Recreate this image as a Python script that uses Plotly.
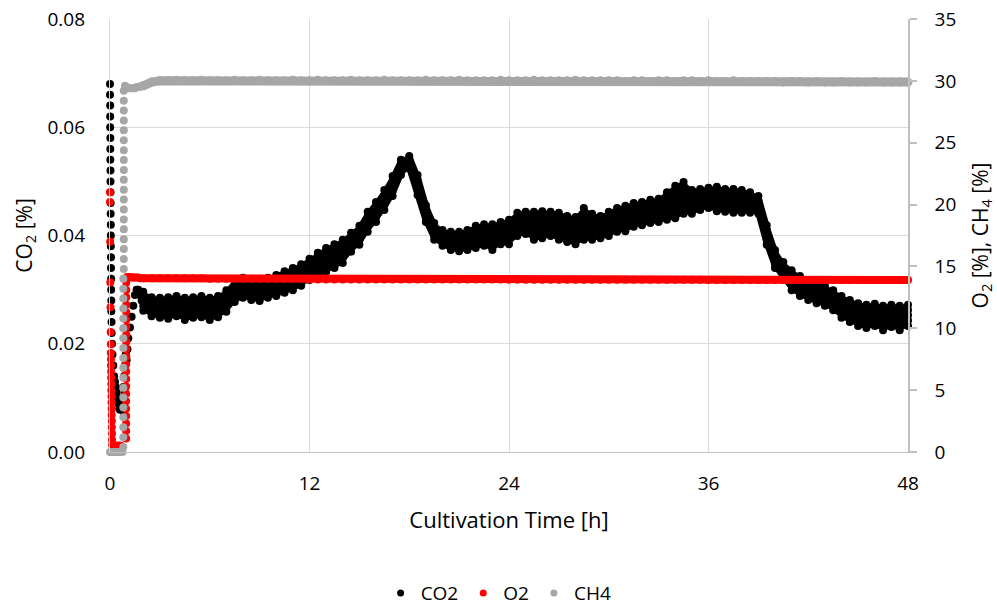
import plotly.graph_objects as go

# ---------------- data ----------------
# start-up phase, CO2 [%]
co2_start_t = [0.00, 0.00, 0.01, 0.01, 0.01, 0.02, 0.02, 0.02, 0.03, 0.03, 0.03, 0.04, 0.04,
               0.05, 0.05, 0.05, 0.06, 0.06, 0.07, 0.07, 0.08, 0.08, 0.09, 0.10, 0.12, 0.15,
               0.20, 0.25, 0.30, 0.35, 0.40, 0.45, 0.50, 0.55, 0.60, 0.70, 0.75, 0.80, 0.80,
               0.85, 0.85, 0.90, 0.90, 0.95, 1.00, 1.05, 1.10, 1.20, 1.30, 1.40, 1.50, 1.60,
               1.70, 1.80, 1.90]
co2_start_v = [0.068, 0.066, 0.064, 0.062, 0.060, 0.058, 0.056, 0.054, 0.052, 0.050, 0.048,
               0.046, 0.044, 0.042, 0.040, 0.038, 0.036, 0.034, 0.032, 0.030, 0.028, 0.026,
               0.024, 0.022, 0.020, 0.018, 0.016, 0.014, 0.013, 0.012, 0.011, 0.010, 0.009,
               0.008, 0.0078, 0.008, 0.010, 0.012, 0.0075, 0.014, 0.009, 0.016, 0.011, 0.018,
               0.017, 0.019, 0.021, 0.023, 0.025, 0.027, 0.029, 0.030, 0.030, 0.029, 0.028]

# start-up phase, O2 [%]
o2_start_t = [0.00, 0.00, 0.01, 0.02, 0.03, 0.04, 0.05, 0.05, 0.06, 0.06, 0.07, 0.07, 0.08,
              0.08, 0.09, 0.09, 0.10, 0.10, 0.11, 0.11, 0.12, 0.12, 0.13,
              0.15, 0.20, 0.25, 0.30, 0.35, 0.40, 0.45, 0.50, 0.55, 0.60, 0.65,
              0.97, 0.97, 0.97, 0.97, 0.97, 0.97, 0.97, 0.97, 0.97, 0.97, 0.97,
              0.98, 0.98, 0.98, 0.98, 0.98, 0.98, 0.98, 0.98, 0.98, 0.98, 0.98,
              1.00, 1.05, 1.10, 1.20, 1.30, 1.40, 1.50, 1.60, 1.70, 1.80, 1.90]
o2_start_v = [21.0, 20.2, 17.0, 13.7, 11.7, 9.7, 8.7, 8.0, 7.5, 7.0, 6.5, 6.0, 5.5,
              5.0, 4.5, 4.0, 3.5, 3.0, 2.5, 2.0, 1.5, 1.0, 0.6,
              0.5, 0.5, 0.5, 0.5, 0.5, 0.5, 0.5, 0.5, 0.5, 0.5, 0.5,
              1.1, 1.7, 2.3, 2.9, 3.5, 4.1, 4.7, 5.3, 5.9, 6.5, 7.1,
              7.7, 8.3, 8.9, 9.5, 10.1, 10.7, 11.3, 11.9, 12.5, 13.1, 13.7,
              14.1, 14.15, 14.15, 14.15, 14.1, 14.1, 14.1, 14.1, 14.1, 14.05, 14.05]

# start-up phase, CH4 [%]
ch4_start_t = [0.00, 0.05, 0.10, 0.15, 0.20, 0.25, 0.30, 0.35, 0.40, 0.45, 0.50, 0.55,
               0.60, 0.65, 0.70, 0.75,
               0.80, 0.80, 0.80, 0.80, 0.80, 0.80, 0.80, 0.80, 0.80, 0.80, 0.80, 0.80,
               0.80, 0.80, 0.80, 0.80, 0.80, 0.80,
               0.83, 0.83, 0.83, 0.83, 0.83, 0.83, 0.83, 0.83, 0.83, 0.83, 0.83, 0.83,
               0.83, 0.83, 0.83, 0.83, 0.83, 0.83, 0.83,
               0.90, 1.00, 1.10, 1.20, 1.30, 1.40, 1.50, 1.60, 1.70, 1.80, 1.90]
ch4_start_v = [0, 0, 0, 0, 0, 0, 0, 0, 0, 0, 0, 0, 0, 0, 0, 0,
               0.4, 1.2, 2.0, 2.8, 3.6, 4.4, 5.2, 6.0, 6.8, 7.6, 8.4, 9.2, 10.0, 10.8,
               11.6, 12.4, 13.2, 14.0,
               14.8, 15.6, 16.4, 17.2, 18.0, 18.8, 19.6, 20.4, 21.2, 22.0, 22.8, 23.6,
               24.4, 25.2, 26.0, 26.8, 27.6, 28.4, 29.2,
               29.6, 29.5, 29.4, 29.4, 29.4, 29.4, 29.4, 29.5, 29.5, 29.5, 29.6]

# main phase, sampled every 0.5 h
time_h = [2.0, 2.5, 3.0, 3.5, 4.0, 4.5, 5.0, 5.5, 6.0, 6.5, 7.0, 7.5, 8.0, 8.5, 9.0, 9.5,
          10.0, 10.5, 11.0, 11.5, 12.0, 12.5, 13.0, 13.5, 14.0, 14.5, 15.0, 15.5, 16.0,
          16.5, 17.0, 17.5, 18.0, 18.5, 19.0, 19.5, 20.0, 20.5, 21.0, 21.5, 22.0, 22.5,
          23.0, 23.5, 24.0, 24.5, 25.0, 25.5, 26.0, 26.5, 27.0, 27.5, 28.0, 28.5, 29.0,
          29.5, 30.0, 30.5, 31.0, 31.5, 32.0, 32.5, 33.0, 33.5, 34.0, 34.5, 35.0, 35.5,
          36.0, 36.5, 37.0, 37.5, 38.0, 38.5, 39.0, 39.5, 40.0, 40.5, 41.0, 41.5, 42.0,
          42.5, 43.0, 43.5, 44.0, 44.5, 45.0, 45.5, 46.0, 46.5, 47.0, 47.5, 48.0]

# upper / lower edge of the noisy CO2 band [%]
co2_upper = [0.0296, 0.0286, 0.0285, 0.0286, 0.0288, 0.0285, 0.0286, 0.0288, 0.0285, 0.0288,
             0.0299, 0.0318, 0.0322, 0.0318, 0.0316, 0.0322, 0.0327, 0.0334, 0.0340, 0.0347,
             0.0357, 0.0368, 0.0377, 0.0384, 0.0392, 0.0405, 0.0418, 0.0444, 0.0462, 0.0484,
             0.0510, 0.0540, 0.0547, 0.0512, 0.0456, 0.0423, 0.0410, 0.0407, 0.0407, 0.0410,
             0.0418, 0.0421, 0.0421, 0.0425, 0.0429, 0.0442, 0.0444, 0.0444, 0.0445, 0.0444,
             0.0442, 0.0436, 0.0434, 0.0451, 0.0440, 0.0436, 0.0444, 0.0451, 0.0455, 0.0460,
             0.0462, 0.0466, 0.0468, 0.0480, 0.0492, 0.0499, 0.0484, 0.0486, 0.0488, 0.0490,
             0.0486, 0.0486, 0.0484, 0.0480, 0.0473, 0.0419, 0.0373, 0.0351, 0.0336, 0.0325,
             0.0318, 0.0314, 0.0307, 0.0299, 0.0288, 0.0281, 0.0275, 0.0272, 0.0274, 0.0270,
             0.0272, 0.0270, 0.0272]
co2_lower = [0.0261, 0.0251, 0.0248, 0.0246, 0.0251, 0.0244, 0.0248, 0.0249, 0.0244, 0.0249,
             0.0259, 0.0277, 0.0285, 0.0281, 0.0279, 0.0285, 0.0288, 0.0294, 0.0299, 0.0307,
             0.0318, 0.0325, 0.0333, 0.0340, 0.0349, 0.0370, 0.0383, 0.0407, 0.0425, 0.0447,
             0.0473, 0.0512, 0.0525, 0.0475, 0.0425, 0.0392, 0.0381, 0.0373, 0.0371, 0.0373,
             0.0377, 0.0381, 0.0373, 0.0384, 0.0384, 0.0399, 0.0403, 0.0392, 0.0395, 0.0399,
             0.0392, 0.0388, 0.0384, 0.0392, 0.0392, 0.0395, 0.0399, 0.0407, 0.0408, 0.0416,
             0.0419, 0.0423, 0.0425, 0.0429, 0.0432, 0.0440, 0.0440, 0.0447, 0.0451, 0.0445,
             0.0444, 0.0442, 0.0442, 0.0442, 0.0440, 0.0383, 0.0340, 0.0318, 0.0299, 0.0288,
             0.0281, 0.0275, 0.0270, 0.0262, 0.0248, 0.0240, 0.0233, 0.0229, 0.0233, 0.0225,
             0.0231, 0.0225, 0.0233]

o2_main = [14.05, 14.05, 14.05, 14.05, 14.05, 14.05, 14.05, 14.05, 14.0, 14.0, 14.0, 14.0,
           14.0, 14.0, 14.0, 14.0, 14.0, 14.0, 14.0, 14.0, 13.95, 13.95, 13.95, 13.95,
           13.95, 13.95, 13.95, 13.95, 13.95, 13.95, 13.95, 13.95, 13.95, 13.95, 13.95, 13.95,
           13.95, 13.95, 13.95, 13.95, 13.95, 13.95, 13.95, 13.95, 13.92, 13.92, 13.92, 13.92,
           13.92, 13.92, 13.92, 13.92, 13.92, 13.92, 13.92, 13.92, 13.92, 13.92, 13.92, 13.92,
           13.92, 13.92, 13.92, 13.92, 13.92, 13.92, 13.92, 13.92, 13.9, 13.9, 13.9, 13.9,
           13.9, 13.9, 13.9, 13.9, 13.9, 13.9, 13.9, 13.9, 13.9, 13.9, 13.9, 13.9, 13.9, 13.9,
           13.9, 13.9, 13.9, 13.9, 13.9, 13.9, 13.9]

ch4_main = [29.6, 29.9, 30.0, 30.0, 30.05, 30.0, 30.0, 30.05, 30.0, 30.0, 30.0, 30.05,
            30.0, 30.0, 30.05, 30.0, 30.0, 30.0, 30.05, 30.0, 30.0, 30.05, 30.0, 30.0,
            30.0, 30.05, 30.0, 30.0, 30.0, 30.05, 30.0, 30.0, 30.0, 30.0, 30.05, 30.0,
            30.0, 30.0, 30.05, 30.0, 30.0, 30.0, 30.0, 30.05, 30.0, 30.0, 30.0, 30.05,
            30.0, 30.0, 30.0, 30.0, 30.05, 30.0, 30.0, 30.0, 30.0, 30.0, 29.95, 30.0,
            30.0, 29.95, 30.0, 30.0, 29.95, 30.0, 30.0, 29.95, 30.0, 29.95, 29.95, 30.0,
            29.95, 29.95, 29.95, 29.95, 29.95, 29.9, 29.95, 29.95, 29.9, 29.95, 29.9, 29.9,
            29.95, 29.9, 29.9, 29.9, 29.95, 29.9, 29.9, 29.9, 29.9]

series_names = ["CO2", "O2", "CH4"]
x_ticks = [0, 12, 24, 36, 48]

# ---------------- styling ----------------
BLACK = "#000000"
RED = "#ff0000"
GREY = "#a6a6a6"
GRID = "#d9d9d9"
AXIS = "#bfbfbf"
FONT = "Open Sans"
MS = 8

fig = go.Figure()

# CO2 band (primary axis): solid polygon between the upper and lower edge
band_x = time_h + time_h[::-1]
band_y = co2_upper + co2_lower[::-1]
fig.add_trace(go.Scatter(x=band_x, y=band_y, mode="lines", fill="toself",
                         fillcolor=BLACK, line=dict(color=BLACK, width=2),
                         showlegend=False, hoverinfo="skip"))
# inner rows of dots so the band reads as a dense cloud of samples
for frac in (0.25, 0.5, 0.75):
    inner = [lo + frac * (hi - lo) for lo, hi in zip(co2_lower, co2_upper)]
    fig.add_trace(go.Scatter(x=time_h, y=inner, mode="lines+markers",
                             line=dict(color=BLACK, width=8),
                             marker=dict(color=BLACK, size=MS), showlegend=False,
                             cliponaxis=False, hoverinfo="skip"))
fig.add_trace(go.Scatter(x=time_h, y=co2_lower, mode="markers",
                         marker=dict(color=BLACK, size=MS), showlegend=False,
                         cliponaxis=False, hoverinfo="skip"))
fig.add_trace(go.Scatter(x=time_h, y=co2_upper, mode="markers",
                         marker=dict(color=BLACK, size=MS),
                         showlegend=False, cliponaxis=False, hoverinfo="skip"))
fig.add_trace(go.Scatter(x=co2_start_t, y=co2_start_v, mode="markers",
                         marker=dict(color=BLACK, size=MS), showlegend=False,
                         cliponaxis=False))

# O2 (secondary axis)
fig.add_trace(go.Scatter(x=time_h, y=o2_main, mode="lines+markers", yaxis="y2",
                         line=dict(color=RED, width=8), marker=dict(color=RED, size=MS),
                         showlegend=False, cliponaxis=False))
fig.add_trace(go.Scatter(x=o2_start_t, y=o2_start_v, mode="markers", yaxis="y2",
                         marker=dict(color=RED, size=MS), showlegend=False,
                         cliponaxis=False))

# CH4 (secondary axis)
fig.add_trace(go.Scatter(x=time_h, y=ch4_main, mode="lines+markers", yaxis="y2",
                         line=dict(color=GREY, width=9), marker=dict(color=GREY, size=9),
                         showlegend=False, cliponaxis=False))
fig.add_trace(go.Scatter(x=ch4_start_t, y=ch4_start_v, mode="markers", yaxis="y2",
                         marker=dict(color=GREY, size=MS), showlegend=False,
                         cliponaxis=False))

# legend entries
for name, col in zip(series_names, [BLACK, RED, GREY]):
    fig.add_trace(go.Scatter(x=[None], y=[None], mode="markers", name=name,
                             marker=dict(color=col, size=7)))

fig.update_layout(
    width=997, height=607,
    margin=dict(l=110, r=89, t=19, b=155, autoexpand=False),
    paper_bgcolor="white", plot_bgcolor="white",
    font=dict(family=FONT, size=19, color="#000000"),
    showlegend=True,
    legend=dict(orientation="h", x=0.487, xanchor="center", y=-0.326, yanchor="middle",
                font=dict(family=FONT, size=19), itemwidth=30, traceorder="normal"),
    xaxis=dict(range=[0, 48], tickvals=x_ticks, showgrid=True, gridcolor=GRID,
               gridwidth=1.3, showline=True, linecolor=AXIS, linewidth=1.3,
               zeroline=False, ticks="", ticklabelstandoff=14, automargin=False,
               title=dict(text="Cultivation Time [h]", font=dict(size=22), standoff=17)),
    yaxis=dict(range=[0, 0.08], dtick=0.02, tickformat=".2f", showgrid=True,
               gridcolor=GRID, gridwidth=1.3, showline=True, linecolor=GRID, linewidth=1.3,
               zeroline=False, ticks="", ticklabelstandoff=20, automargin=False,
               title=dict(text="CO<sub>2</sub> [%]", font=dict(size=21), standoff=9)),
    yaxis2=dict(range=[0, 35], dtick=5, overlaying="y", side="right", showgrid=False,
                showline=True, linecolor=AXIS, linewidth=1.5, zeroline=False,
                ticks="outside", ticklen=7, tickcolor=AXIS, tickwidth=1.5,
                ticklabelstandoff=14, automargin=False,
                title=dict(text="O<sub>2</sub> [%], CH<sub>4</sub> [%]", font=dict(size=21),
                           standoff=18)),
)

fig.write_html("out.html")
